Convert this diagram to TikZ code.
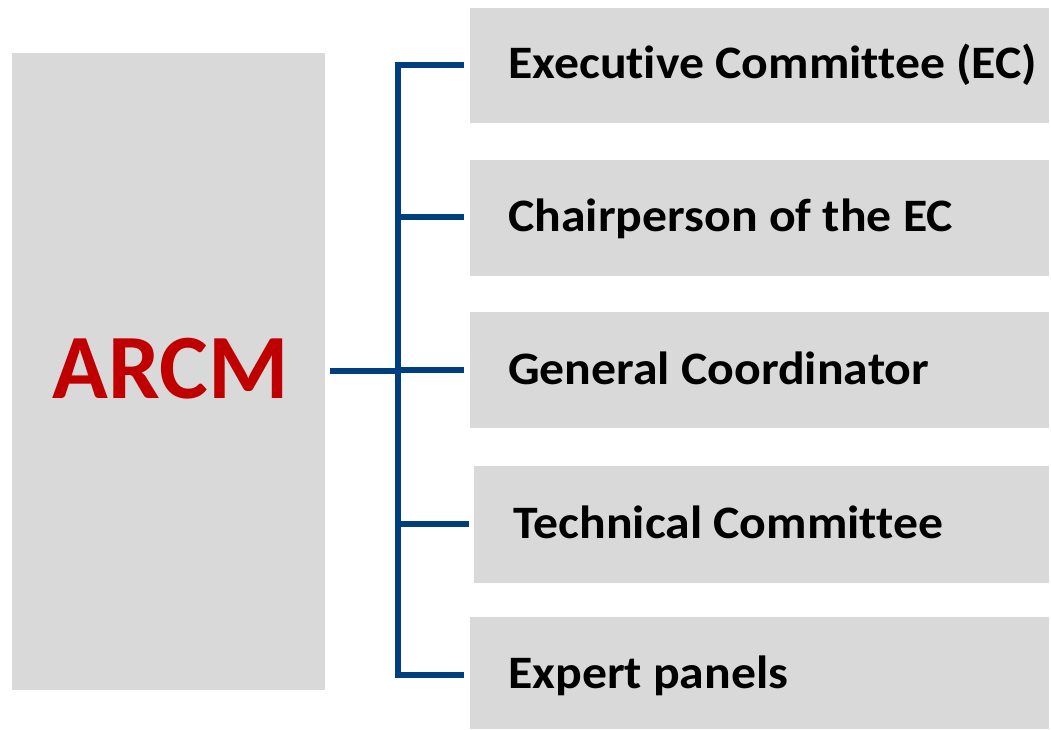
\documentclass[tikz,border=0pt]{standalone}
\usepackage{fontspec}
\setmainfont[Ligatures=NoCommon]{Carlito}
\newfontfamily\lblfont[Ligatures=NoCommon,FakeStretch=1.07]{Carlito}
\definecolor{boxgray}{HTML}{D9D9D9}
\definecolor{linkblue}{RGB}{0,63,125}
\definecolor{arcmred}{HTML}{C00000}
\begin{document}
\begin{tikzpicture}[x=1pt,y=-1pt,
  graybox/.style={fill=boxgray,draw=none},
  lbl/.style={anchor=base west,inner sep=0pt,font=\lblfont\fontsize{46.5}{52}\selectfont\bfseries},
  link/.style={draw=linkblue,line width=5.5pt}]
\useasboundingbox (0,0) rectangle (1051,729);
\fill[white] (0,0) rectangle (1051,729);
% boxes
\path[graybox] (12,53) rectangle (325,690);
\node[anchor=center,inner sep=0pt,text=arcmred,font=\fontsize{92}{100}\selectfont\bfseries] (arcm) at (170.5,369) {ARCM};
\path[graybox] (470,8) rectangle (1049,123);
\path[graybox] (470,160) rectangle (1049,276);
\path[graybox] (470,312) rectangle (1049,428);
\path[graybox] (474,466) rectangle (1049,583);
\path[graybox] (470,617) rectangle (1049,729);
\node[lbl] (t1) at (508,78) {Executive Committee (EC)};
\node[lbl] (t2) at (508,231) {Chairperson of the EC};
\node[lbl] (t3) at (508,384) {General Coordinator};
\node[lbl] (t4) at (513,538) {Technical Committee};
\node[lbl] (t5) at (508,688) {Expert panels};
% connectors
\coordinate (src) at (330,371);
\coordinate (jn) at (398,371);
\coordinate (e1) at (464,65);
\coordinate (e2) at (464,217);
\coordinate (e3) at (464,370);
\coordinate (e4) at (469,524);
\coordinate (e5) at (464,675);
\draw[link] (src) -- (jn);
\draw[link,line join=miter] (e1) -- (398,65) -- (398,675) -- (e5);
\draw[link] (398,217) -- (e2);
\draw[link] (398,370) -- (e3);
\draw[link] (398,524) -- (e4);
\end{tikzpicture}
\end{document}
